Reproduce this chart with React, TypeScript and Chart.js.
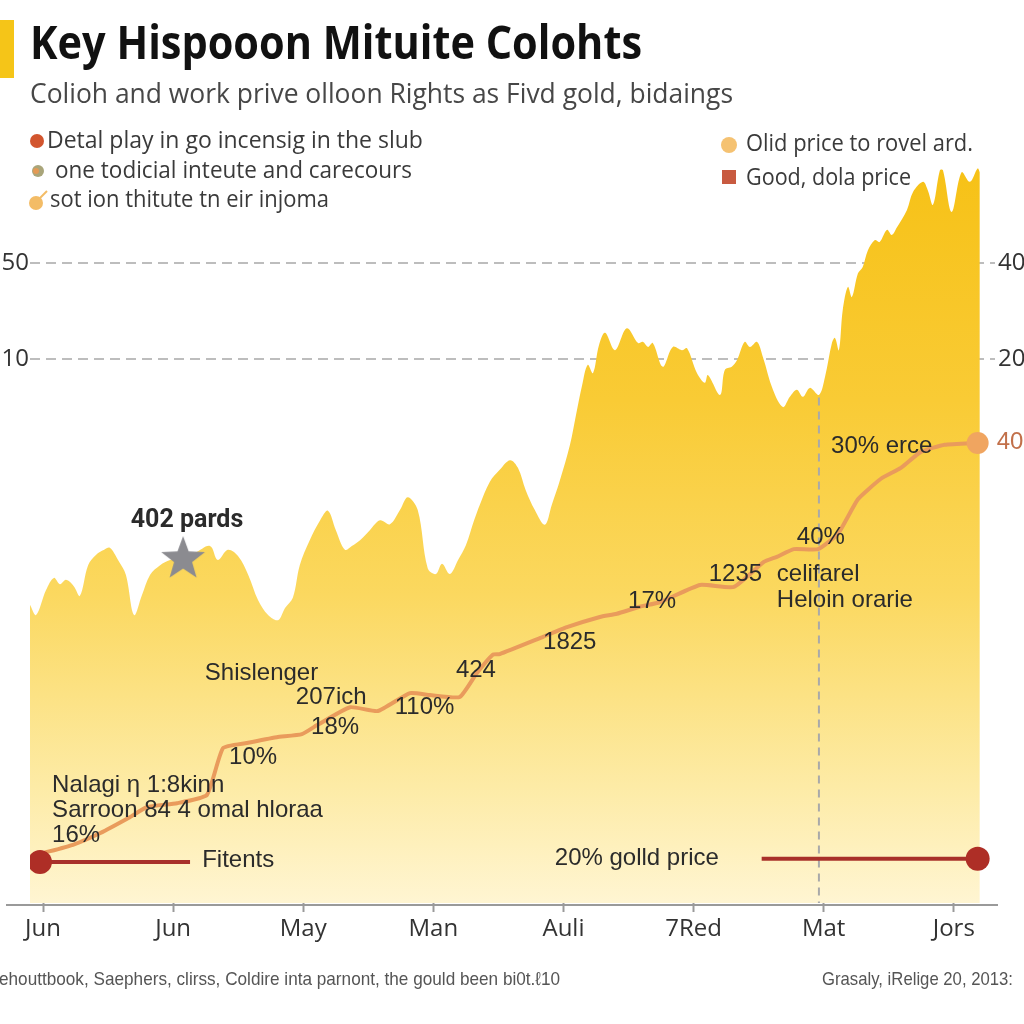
import React, { useEffect, useRef } from "react";
import { Chart, registerables } from "chart.js";

Chart.register(...registerables);

// ---------- data ----------
const monthTicks = [0, 30, 60, 90, 120, 150, 180, 210];
const monthLabels = ["Jun", "Jun", "May", "Man", "Auli", "7Red", "Mat", "Jors"];

const gridValues = [85, 100];
const leftTickLabels = ["10", "50"];
const rightTickLabels = ["20", "40"];

const areaX = [
  -3.0, -1.6, 0.7, 2.5, 3.9, 5.3, 7.1, 8.5, 10.4, 12.2, 14.1, 15.4, 17.3, 19.1, 21.0, 22.8, 24.7, 27.0, 29.3, 32.3,
  35.0, 38.5, 40.3, 42.6, 45.0, 47.3, 49.6, 51.9, 54.2, 55.8, 57.6, 59.2, 61.5, 63.9, 65.7, 67.5, 69.6, 71.2, 73.1, 75.4,
  77.7, 80.0, 82.3, 84.1, 86.4, 88.7, 90.6, 92.0, 93.8, 95.7, 97.5, 99.4, 100.7, 103.0, 105.3, 107.7, 109.5, 111.3, 113.4, 115.7,
  117.3, 119.2, 121.5, 122.9, 124.3, 125.6, 126.8, 128.2, 129.6, 131.9, 134.6, 137.2, 138.3, 139.5, 140.6, 142.9, 145.2, 147.3, 148.5, 150.8,
  152.6, 153.3, 156.1, 157.2, 158.8, 160.0, 161.8, 163.0, 164.6, 166.0, 168.3, 170.6, 172.2, 173.8, 175.2, 176.8, 178.9, 180.3, 181.9, 182.6,
  183.5, 184.4, 185.6, 186.5, 187.9, 189.0, 190.2, 191.8, 192.9, 194.6, 195.7, 196.9, 199.2, 200.6, 202.9, 204.0, 205.2, 206.8, 207.5, 209.5,
  211.8, 213.7, 215.5, 216.0,
];
const areaY = [
  46.6, 45.0, 48.9, 50.8, 49.8, 50.5, 49.5, 48.0, 52.8, 54.4, 55.2, 55.5, 53.6, 51.3, 45.0, 48.1, 51.3, 52.8, 53.6, 54.2,
  54.7, 55.8, 53.6, 55.2, 54.2, 51.3, 47.3, 45.0, 44.2, 46.1, 47.7, 52.8, 56.7, 59.8, 61.3, 58.3, 55.2, 55.8, 56.7, 58.3,
  59.8, 59.2, 61.4, 63.4, 61.4, 52.3, 51.4, 53.0, 51.4, 53.6, 55.9, 59.8, 62.2, 65.8, 67.7, 69.2, 68.0, 64.5, 61.4, 59.1,
  62.2, 66.1, 71.6, 76.3, 80.9, 84.1, 82.8, 87.2, 89.1, 86.4, 89.8, 87.5, 87.7, 86.9, 87.5, 83.8, 86.9, 86.4, 86.7, 82.8,
  81.3, 82.5, 79.4, 83.3, 83.8, 84.8, 87.7, 86.9, 87.7, 85.3, 80.2, 77.5, 79.1, 80.2, 79.1, 80.5, 79.4, 82.2, 87.5, 88.3,
  86.4, 92.7, 96.3, 94.7, 98.4, 99.4, 102.0, 103.6, 103.3, 105.2, 104.4, 105.6, 108.3, 111.1, 112.7, 111.4, 109.1, 114.5, 114.5, 108.0,
  114.2, 112.7, 114.8, 114.2,
];

const priceX = [
  0.0, 6.9, 13.1, 20.0, 24.0, 30.9, 37.8, 41.5, 47.0, 53.9, 59.7, 63.2, 70.8, 77.2, 84.6, 89.2, 96.1, 100.0, 103.7, 105.3,
  115.3, 120.8, 128.4, 132.3, 137.6, 142.2, 151.5, 159.3, 166.2, 169.2, 173.1, 178.7, 183.3, 187.9, 193.2, 197.8, 202.4, 207.9, 215.5,
];
const priceY = [
  7.8, 9.1, 10.9, 13.4, 15.0, 15.6, 16.9, 24.2, 25.0, 25.9, 26.4, 27.8, 30.6, 30.0, 32.8, 32.5, 32.2, 35.9, 38.8, 38.9,
  41.6, 43.1, 44.7, 45.2, 46.3, 47.0, 49.7, 49.4, 53.3, 54.1, 55.3, 55.3, 57.7, 63.1, 66.3, 68.0, 70.5, 71.6, 71.9,
];

const fitentsX = [-0.7, 33.9];
const fitentsY = [6.4, 6.4];
const goldLineX = [165.7, 215.5];
const goldLineY = [6.9, 6.9];
const starX = [32.3];
const starY = [53.9];

const markerLineX = 178.9;
const markerLineTop = 79.0;

const annotations = [
  { text: "402 pards", x: 33.2, y: 59.8, align: "center", bold: true },
  { text: "Shislenger", x: 37.3, y: 35.9 },
  { text: "207ich", x: 58.3, y: 32.2 },
  { text: "18%", x: 61.8, y: 27.5 },
  { text: "10%", x: 42.9, y: 22.8 },
  { text: "110%", x: 81.1, y: 30.6 },
  { text: "424", x: 95.2, y: 36.4 },
  { text: "1825", x: 115.3, y: 40.8 },
  { text: "17%", x: 134.9, y: 47.2 },
  { text: "1235", x: 153.5, y: 51.4 },
  { text: "celifarel", x: 169.2, y: 51.4 },
  { text: "Heloin orarie", x: 169.2, y: 47.3 },
  { text: "40%", x: 173.8, y: 57.2 },
  { text: "30% erce", x: 181.7, y: 71.3 },
  { text: "Nalagi η 1:8kinn", x: 2.1, y: 18.4 },
  { text: "Sarroon 84 4 omal hloraa", x: 2.1, y: 14.5 },
  { text: "16%", x: 2.1, y: 10.5 },
  { text: "Fitents", x: 36.7, y: 6.6 },
  { text: "20% golld price", x: 118.0, y: 7.0 },
  { text: "40", x: 219.9, y: 72.0, color: "#C2704A" },
];

const SANS = '"Liberation Sans", Arial, sans-serif';
const OPEN = '"Open Sans", "Noto Sans", sans-serif';

function makeStar(): HTMLCanvasElement {
  const c = document.createElement("canvas");
  c.width = 50;
  c.height = 50;
  const g = c.getContext("2d")!;
  g.fillStyle = "#8B8B90";
  g.beginPath();
  for (let i = 0; i < 10; i++) {
    const r = i % 2 === 0 ? 23 : 9.5;
    const a = -Math.PI / 2 + (i * Math.PI) / 5;
    const px = 25 + r * Math.cos(a);
    const py = 26 + r * Math.sin(a);
    if (i === 0) g.moveTo(px, py);
    else g.lineTo(px, py);
  }
  g.closePath();
  g.fill();
  return c;
}

const decor = {
  id: "decor",
  beforeDraw(chart: any) {
    const c = chart.ctx;
    c.save();
    c.fillStyle = "#ffffff";
    c.fillRect(0, 0, chart.width, chart.height);
    c.restore();
  },
  afterDatasetDraw(chart: any, args: any) {
    if (args.index !== 0) return;
    const c = chart.ctx;
    const xs = chart.scales.x;
    const ys = chart.scales.y;
    const px = xs.getPixelForValue(markerLineX);
    c.save();
    c.strokeStyle = "#A9A9A9";
    c.lineWidth = 2;
    c.setLineDash([8, 6]);
    c.beginPath();
    c.moveTo(px, ys.getPixelForValue(markerLineTop));
    c.lineTo(px, ys.getPixelForValue(0));
    c.stroke();
    c.restore();
  },
  afterDraw(chart: any) {
    const c = chart.ctx;
    const xs = chart.scales.x;
    const ys = chart.scales.y;
    const area = chart.chartArea;
    c.save();
    // x axis line
    c.strokeStyle = "#9A9A9A";
    c.lineWidth = 2;
    c.beginPath();
    c.moveTo(6, area.bottom + 2);
    c.lineTo(998, area.bottom + 2);
    c.stroke();

    // title
    c.fillStyle = "#F5C518";
    c.fillRect(0, 20, 14, 58);
    c.textBaseline = "middle";
    c.textAlign = "left";
    c.fillStyle = "#111111";
    c.font = `bold 46px ${OPEN}`;
    c.fillText("Key Hispooon Mituite Colohts", 30, 46, 612);
    c.fillStyle = "#474747";
    c.font = `27px ${OPEN}`;
    c.fillText("Colioh and work prive olloon Rights as Fivd gold, bidaings", 30, 95, 703);

    // left legend
    c.font = `23px ${OPEN}`;
    c.fillStyle = "#D2552E";
    c.beginPath();
    c.arc(37, 141, 7, 0, Math.PI * 2);
    c.fill();
    c.fillStyle = "#A9A57A";
    c.beginPath();
    c.arc(38, 171, 6, 0, Math.PI * 2);
    c.fill();
    c.fillStyle = "#E49A55";
    c.beginPath();
    c.arc(36, 171, 3, 0, Math.PI * 2);
    c.fill();
    c.fillStyle = "#F3BC66";
    c.beginPath();
    c.arc(36, 203, 7, 0, Math.PI * 2);
    c.fill();
    c.strokeStyle = "#F3BC66";
    c.lineWidth = 2;
    c.beginPath();
    c.moveTo(39, 199);
    c.lineTo(47, 191);
    c.stroke();
    c.fillStyle = "#3a3a3a";
    c.fillText("Detal play in go incensig in the slub", 47, 141, 387);
    c.fillText("one todicial inteute and carecours", 55, 171, 357);
    c.fillText("sot ion thitute tn eir injoma", 50, 200, 279);

    // right legend
    c.fillStyle = "#F5C272";
    c.beginPath();
    c.arc(729, 145, 8, 0, Math.PI * 2);
    c.fill();
    c.fillStyle = "#C85A40";
    c.fillRect(722, 170, 14, 14);
    c.fillStyle = "#3a3a3a";
    c.fillText("Olid price to rovel ard.", 746, 144, 227);
    c.fillText("Good, dola price", 746, 178, 165);

    // annotations
    for (const a of annotations as any[]) {
      const px = xs.getPixelForValue(a.x);
      const py = ys.getPixelForValue(a.y);
      c.textAlign = a.align || "left";
      c.font = a.bold ? `bold 25px Roboto, ${SANS}` : `24px ${SANS}`;
      c.fillStyle = a.color || "#2b2b2b";
      c.fillText(a.text, px, py);
    }

    // footer
    c.textAlign = "left";
    c.font = `19px ${SANS}`;
    c.fillStyle = "#555555";
    c.fillText("ehouttbook, Saephers, clirss, Coldire inta parnont, the gould been bi0t.ℓ10", -1, 980, 561);
    c.fillText("Grasaly, iRelige 20, 2013:", 822, 980, 191);
    c.restore();
  },
};

export default function App() {
  const ref = useRef<HTMLCanvasElement>(null);

  useEffect(() => {
    const star = makeStar();
    const lastIdx = priceX.length - 1;
    const chart = new Chart(ref.current!, {
      type: "line",
      data: {
        datasets: [
          {
            label: "area",
            data: areaX.map((x, i) => ({ x, y: areaY[i] })),
            fill: "origin",
            borderWidth: 0,
            borderColor: "rgba(0,0,0,0)",
            pointRadius: 0,
            tension: 0.35,
            order: 10,
            backgroundColor: (ctx: any) => {
              const ch = ctx.chart;
              const ca = ch.chartArea;
              if (!ca) return "#F9CD3C";
              const g = ch.ctx.createLinearGradient(0, ca.top, 0, ca.bottom);
              g.addColorStop(0, "#F6C012");
              g.addColorStop(0.35, "#F9CB35");
              g.addColorStop(0.6, "#FBD85F");
              g.addColorStop(0.85, "#FDEBA6");
              g.addColorStop(1, "#FFF5D2");
              return g;
            },
          },
          {
            label: "price",
            data: priceX.map((x, i) => ({ x, y: priceY[i] })),
            borderColor: "#E99B5C",
            borderWidth: 4,
            tension: 0.15,
            fill: false,
            pointRadius: (ctx: any) => (ctx.dataIndex === lastIdx ? 11 : 0),
            pointBackgroundColor: "#F0A560",
            pointBorderWidth: 0,
            order: 3,
          },
          {
            label: "fitents",
            data: fitentsX.map((x, i) => ({ x, y: fitentsY[i] })),
            borderColor: "#A8302A",
            borderWidth: 4,
            fill: false,
            pointRadius: [12, 0],
            pointBackgroundColor: "#AE2E26",
            pointBorderWidth: 0,
            order: 2,
          },
          {
            label: "gold",
            data: goldLineX.map((x, i) => ({ x, y: goldLineY[i] })),
            borderColor: "#A8302A",
            borderWidth: 4,
            fill: false,
            pointRadius: [0, 12],
            pointBackgroundColor: "#AE2E26",
            pointBorderWidth: 0,
            order: 2,
          },
          {
            label: "star",
            data: starX.map((x, i) => ({ x, y: starY[i] })),
            showLine: false,
            pointStyle: star as any,
            pointRadius: 22,
            order: 1,
          },
        ],
      },
      options: {
        responsive: false,
        devicePixelRatio: 1,
        animation: false,
        layout: { padding: { top: 130, left: 0, right: 0, bottom: 0 } },
        plugins: { legend: { display: false }, tooltip: { enabled: false }, title: { display: false } },
        scales: {
          x: {
            type: "linear",
            min: -3,
            max: 219.5,
            afterBuildTicks: (s: any) => {
              s.ticks = monthTicks.map((v) => ({ value: v }));
            },
            afterFit: (s: any) => {
              s.height = 121;
            },
            ticks: {
              callback: (v: any) => monthLabels[monthTicks.indexOf(Number(v))],
              font: { size: 24, family: OPEN },
              color: "#333333",
              padding: 3,
              maxRotation: 0,
              autoSkip: false,
            },
            grid: { drawOnChartArea: false, tickLength: 9, tickColor: "#9A9A9A", tickWidth: 2 },
            border: { display: false },
          },
          y: {
            position: "left",
            min: 0,
            max: 120.8,
            z: 1,
            afterBuildTicks: (s: any) => {
              s.ticks = gridValues.map((v) => ({ value: v }));
            },
            afterFit: (s: any) => {
              s.width = 30;
            },
            ticks: {
              callback: (v: any) => leftTickLabels[gridValues.indexOf(Number(v))],
              font: { size: 24, family: OPEN },
              color: "#333333",
              padding: 1,
            },
            grid: { color: "#BDBDBD", lineWidth: 2, drawTicks: false },
            border: { display: false, dash: [10, 6] },
          },
          y2: {
            position: "right",
            min: 0,
            max: 120.8,
            afterBuildTicks: (s: any) => {
              s.ticks = gridValues.map((v) => ({ value: v }));
            },
            afterFit: (s: any) => {
              s.width = 29;
            },
            ticks: {
              callback: (v: any) => rightTickLabels[gridValues.indexOf(Number(v))],
              font: { size: 24, family: OPEN },
              color: "#333333",
              padding: 3,
            },
            grid: { display: false, drawTicks: false, tickLength: 0 },
            border: { display: false },
          },
        },
      },
      plugins: [decor],
    } as any);
    return () => chart.destroy();
  }, []);

  return (
    <div style={{ position: "absolute", left: 0, top: 0, width: 1024, height: 1024, background: "#fff" }}>
      <canvas ref={ref} width={1024} height={1024} style={{ width: 1024, height: 1024, display: "block" }} />
    </div>
  );
}
